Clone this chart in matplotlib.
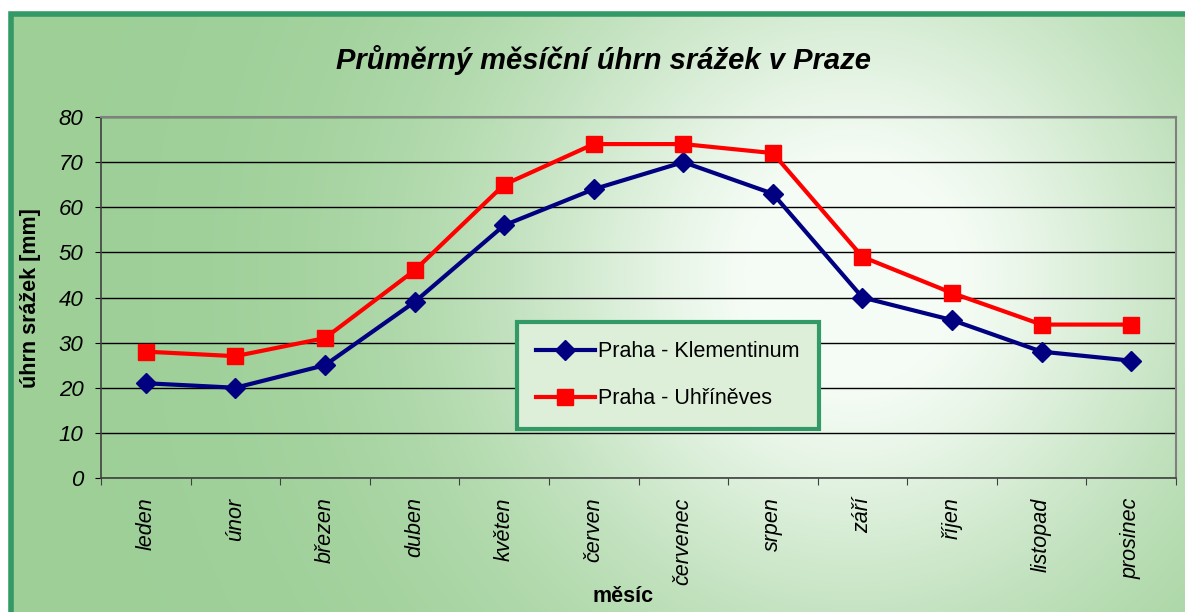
import numpy as np
import matplotlib
matplotlib.use("Agg")
import matplotlib.pyplot as plt
from matplotlib.patches import Rectangle

months = ["leden", "únor", "březen", "duben", "květen", "červen", "červenec",
          "srpen", "září", "říjen", "listopad", "prosinec"]
klementinum = [21, 20, 25, 39, 56, 64, 70, 63, 40, 35, 28, 26]
uhrineves = [28, 27, 31, 46, 65, 74, 74, 72, 49, 41, 34, 34]
series_names = ["Praha - Klementinum", "Praha - Uhříněves"]
title = "Průměrný měsíční úhrn srážek v Praze"
yticks = [0, 10, 20, 30, 40, 50, 60, 70, 80]

plt.rcParams['font.family'] = ['Liberation Sans', 'DejaVu Sans']

W, H = 1185, 612
fig = plt.figure(figsize=(W / 100, H / 100), dpi=100)
fig.patch.set_facecolor('white')

# background gradient
bg = fig.add_axes([0, 0, 1, 1], zorder=-10)
bg.set_axis_off()
xx, yy = np.meshgrid(np.linspace(0, 1, 600), np.linspace(0, 1, 310))
green = np.array([157, 207, 151]) / 255.0
white = np.array([245, 252, 245]) / 255.0
w = np.exp(-((xx - 0.72) ** 2 / 0.09 + (yy - 0.45) ** 2 / 0.35))
w = np.clip(w * 1.1, 0, 1)
img = green[None, None, :] * (1 - w[..., None]) + white[None, None, :] * w[..., None]
bg.imshow(img, extent=[0, 1, 0, 1], aspect='auto', origin='upper')
bg.set_xlim(0, 1)
bg.set_ylim(0, 1)
bg.add_patch(Rectangle((0, 1 - 12 / H), 1, 12 / H, facecolor='white', edgecolor='none', transform=bg.transAxes))
bg.add_patch(Rectangle((0, 0), 9 / W, 1, facecolor='white', edgecolor='none', transform=bg.transAxes))
bg.add_patch(Rectangle((11 / W, -0.05), 1.1, 1 - 14 / H + 0.05, facecolor='none',
                       edgecolor='#339966', linewidth=4, transform=bg.transAxes))

ax = fig.add_axes([101 / W, 1 - 478 / H, (1176 - 101) / W, (478 - 117) / H])
ax.patch.set_alpha(0)
x = np.arange(len(months))
ax.plot(x, klementinum, color='#000080', lw=3, marker='D', markersize=10,
        markerfacecolor='#000080', markeredgecolor='#000080', label=series_names[0], zorder=3)
ax.plot(x, uhrineves, color='#ff0000', lw=3, marker='s', markersize=11.5,
        markerfacecolor='#ff0000', markeredgecolor='#ff0000', label=series_names[1], zorder=3)
ax.set_xlim(-0.5, len(months) - 0.5)
ax.set_ylim(0, 80)
ax.set_yticks(yticks)
ax.set_yticklabels([str(v) for v in yticks], fontsize=16, style='italic')
ax.yaxis.grid(True, color='black', lw=1)
ax.set_axisbelow(True)
ax.set_xticks(np.arange(len(months) + 1) - 0.5, minor=False)
ax.set_xticklabels([])
ax.set_xticks(x, minor=True)
ax.set_xticklabels(months, minor=True, rotation=90, fontsize=15.5, style='italic', va='top')
ax.tick_params(axis='x', which='minor', length=0, pad=14)
ax.tick_params(axis='x', which='major', length=5, direction='out', color='#404040')
ax.tick_params(axis='y', length=4.5, direction='out', pad=8)
for s in ['top', 'right']:
    ax.spines[s].set_color('#808080')
    ax.spines[s].set_linewidth(1.5)
for s in ['left', 'bottom']:
    ax.spines[s].set_color('#404040')
    ax.spines[s].set_linewidth(1.2)

fig.text(31 / W, 1 - 298 / H, "úhrn srážek [mm]", fontsize=15.5, fontweight='bold',
         rotation=90, ha='center', va='center')
fig.text(623 / W, 1 - 596 / H, "měsíc", fontsize=15.5, fontweight='bold', ha='center', va='center')
fig.text(603 / W, 1 - 60 / H, title, fontsize=21, fontweight='bold', style='italic',
         ha='center', va='center')

leg = ax.legend(loc='upper left', bbox_to_anchor=((517 - 101) / (1176 - 101), (478 - 322) / (478 - 117)),
                fontsize=15.5, frameon=True, fancybox=False, handlelength=2.7, labelspacing=1.2,
                borderpad=0.9, handletextpad=0.15, borderaxespad=0)
fr = leg.get_frame()
fr.set_edgecolor('#339966')
fr.set_linewidth(3)
fr.set_facecolor('#ddefd9')
fr.set_alpha(1)

fig.savefig('out.png', dpi=100)
